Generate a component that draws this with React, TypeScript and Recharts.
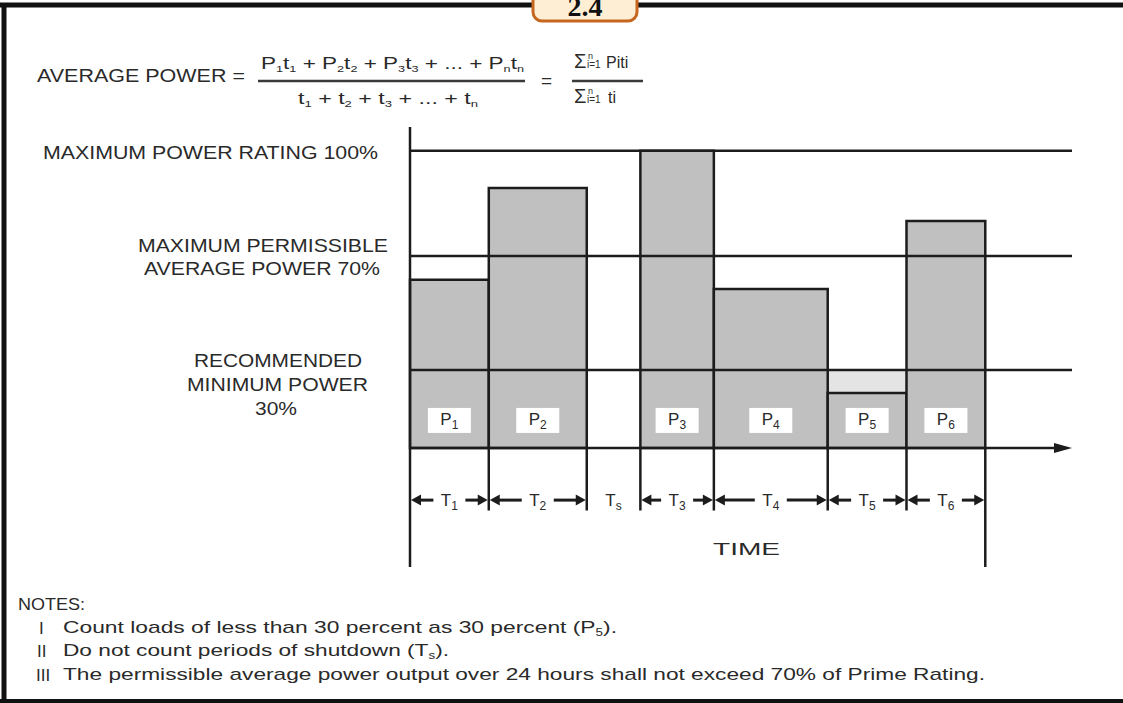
import React from 'react';
import { ComposedChart, XAxis, YAxis, ReferenceArea, ReferenceLine, Scatter } from 'recharts';

// ---- data (diagram units: time on x, load as drawn fraction of the 100% level on y) ----
const periodNames = ['1', '2', '3', '4', '5', '6'];
const periodStart = [0, 11.9, 34.8, 45.9, 63.1, 75.0];
const periodEnd = [11.9, 26.7, 45.9, 63.1, 75.0, 86.9];
const loadLevel = [56.6, 87.5, 100, 53.5, 18.5, 76.4];

const levelNames = ['MAXIMUM POWER RATING 100%', 'MAXIMUM PERMISSIBLE AVERAGE POWER 70%', 'RECOMMENDED MINIMUM POWER 30%'];
const levelValues = [100, 64.6, 26.3];

const timeNames = ['1', '2', 's', '3', '4', '5', '6'];
const timeStart = [0, 11.9, 26.7, 34.8, 45.9, 63.1, 75.0];
const timeEnd = [11.9, 26.7, 34.8, 45.9, 63.1, 75.0, 86.9];

const minimumCounted = levelValues[2];

const FONT = "'Liberation Sans', Arial, Helvetica, sans-serif";
const INK = '#2a2a2a';
const LINE = '#1c1c1c';

const labelPoints = periodNames.map((n, i) => ({ x: (periodStart[i] + periodEnd[i]) / 2, y: 9.3, name: n }));

type Part = [string, boolean];

function Rich({ x, y, parts, size, subSize, shift = 4, textLength, anchor = 'start', weight }: any) {
  let cur = 0;
  return (
    <text
      x={x}
      y={y}
      fontFamily={FONT}
      fontSize={size}
      fill={INK}
      textAnchor={anchor}
      fontWeight={weight}
      textLength={textLength}
      lengthAdjust={textLength ? 'spacingAndGlyphs' : undefined}
      style={{ whiteSpace: 'pre' }}
    >
      {(parts as Part[]).map(([t, sub], i) => {
        const target = sub ? shift : 0;
        const dy = target - cur;
        cur = target;
        return (
          <tspan key={i} dy={dy} fontSize={sub ? subSize : size}>
            {t}
          </tspan>
        );
      })}
    </text>
  );
}

function Plain({ x, y, children, size = 19, textLength, anchor = 'start' }: any) {
  return (
    <text
      x={x}
      y={y}
      fontFamily={FONT}
      fontSize={size}
      fill={INK}
      textAnchor={anchor}
      textLength={textLength}
      lengthAdjust={textLength ? 'spacingAndGlyphs' : undefined}
    >
      {children}
    </text>
  );
}

const renderSpan = (p: any, name: string) => {
  const y = p.y1;
  const mid = (p.x1 + p.x2) / 2;
  const g = 16;
  const arrows = name !== 's';
  return (
    <g>
      {arrows && (
        <g>
          <line x1={p.x1 + 8} y1={y} x2={mid - g} y2={y} stroke={LINE} strokeWidth={3} />
          <line x1={mid + g} y1={y} x2={p.x2 - 8} y2={y} stroke={LINE} strokeWidth={3} />
          <polygon points={`${p.x1 + 1},${y} ${p.x1 + 11},${y - 5.5} ${p.x1 + 11},${y + 5.5}`} fill={LINE} />
          <polygon points={`${p.x2 - 1},${y} ${p.x2 - 11},${y - 5.5} ${p.x2 - 11},${y + 5.5}`} fill={LINE} />
        </g>
      )}
      <text x={mid} y={y + 6} textAnchor="middle" fontFamily={FONT} fontSize={17} fill={INK}>
        T<tspan dy={4} fontSize={12}>{name}</tspan>
      </text>
    </g>
  );
};

const renderAxisArrow = (p: any) => (
  <g>
    <line x1={p.x1} y1={p.y1} x2={p.x2 - 12} y2={p.y2} stroke={LINE} strokeWidth={2.5} />
    <polygon points={`${p.x2},${p.y1} ${p.x2 - 18},${p.y1 - 5} ${p.x2 - 18},${p.y1 + 5}`} fill={LINE} />
  </g>
);

const renderPLabel = (p: any) => {
  const { cx, cy, payload } = p;
  return (
    <g>
      <rect x={cx - 21.5} y={cy - 12.5} width={43} height={25} fill="#ffffff" />
      <text x={cx} y={cy + 5} textAnchor="middle" fontFamily={FONT} fontSize={17} fill={INK}>
        P<tspan dy={4} fontSize={12}>{payload.name}</tspan>
      </text>
    </g>
  );
};

export default function App() {
  const boundaries = timeEnd.slice(0, -1);
  const lastBoundary = timeEnd[timeEnd.length - 1];
  return (
    <div style={{ position: 'fixed', left: 0, top: 0, width: 1123, height: 703, background: '#ffffff', overflow: 'hidden' }}>
      <ComposedChart
        width={1123}
        height={703}
        margin={{ top: 127, right: 51, bottom: 136, left: 410 }}
        data={labelPoints}
      >
        <XAxis type="number" dataKey="x" domain={[0, 100]} hide allowDataOverflow />
        <YAxis type="number" dataKey="y" domain={[-40, 108]} hide allowDataOverflow />

        {periodNames.map((n, i) =>
          loadLevel[i] < minimumCounted ? (
            <ReferenceArea
              key={'min' + n}
              x1={periodStart[i]}
              x2={periodEnd[i]}
              y1={loadLevel[i]}
              y2={minimumCounted}
              fill="#e4e4e4"
              fillOpacity={1}
              stroke="none"
            />
          ) : null
        )}
        {periodNames.map((n, i) => (
          <ReferenceArea
            key={'bar' + n}
            x1={periodStart[i]}
            x2={periodEnd[i]}
            y1={0}
            y2={loadLevel[i]}
            fill="#c0c0c0"
            fillOpacity={1}
            stroke={LINE}
            strokeWidth={2.5}
          />
        ))}

        {levelValues.map((v, i) => (
          <ReferenceLine key={levelNames[i]} y={v} stroke={LINE} strokeWidth={2.5} />
        ))}
        <ReferenceLine x={0} stroke={LINE} strokeWidth={2.5} />
        <ReferenceLine y={0} shape={renderAxisArrow} />

        {boundaries.map((b) => (
          <ReferenceLine key={'b' + b} segment={[{ x: b, y: 0 }, { x: b, y: -21 }]} stroke={LINE} strokeWidth={2.5} />
        ))}
        <ReferenceLine segment={[{ x: lastBoundary, y: 0 }, { x: lastBoundary, y: -40 }]} stroke={LINE} strokeWidth={2.5} />

        {timeNames.map((n, i) => (
          <ReferenceLine
            key={'t' + n}
            segment={[{ x: timeStart[i], y: -17.5 }, { x: timeEnd[i], y: -17.5 }]}
            shape={(p: any) => renderSpan(p, n)}
          />
        ))}

        <Scatter dataKey="y" isAnimationActive={false} shape={renderPLabel} />
      </ComposedChart>

      <svg width={1123} height={703} style={{ position: 'absolute', left: 0, top: 0, pointerEvents: 'none' }}>
        {/* frame */}
        <line x1={0} y1={5} x2={1123} y2={5} stroke="#111" strokeWidth={5} />
        <line x1={4} y1={3} x2={4} y2={703} stroke="#111" strokeWidth={5} />
        <line x1={0} y1={701} x2={1123} y2={701} stroke="#111" strokeWidth={4} />
        <rect x={533} y={-14} width={104} height={35} rx={9} fill="#fdeed4" stroke="#c6661f" strokeWidth={3} />
        <text x={585} y={16} textAnchor="middle" fontFamily="'Liberation Serif', serif" fontWeight="bold" fontSize={28} fill="#111">
          2.4
        </text>

        {/* formula */}
        <Plain x={37} y={82} size={19} textLength={208}>AVERAGE POWER =</Plain>
        <Rich
          x={261}
          y={69}
          size={16}
          subSize={9}
          shift={3}
          textLength={263}
          parts={[
            ['P', false], ['1', true], ['t', false], ['1', true], [' + P', false], ['2', true], ['t', false], ['2', true],
            [' + P', false], ['3', true], ['t', false], ['3', true], [' + ... + P', false], ['n', true], ['t', false], ['n', true],
          ]}
        />
        <line x1={258} y1={81} x2={525} y2={81} stroke="#3a3a3a" strokeWidth={2.5} />
        <Rich
          x={298}
          y={104}
          size={16}
          subSize={9}
          shift={3}
          textLength={180}
          parts={[
            ['t', false], ['1', true], [' + t', false], ['2', true], [' + t', false], ['3', true], [' + ... + t', false], ['n', true],
          ]}
        />
        <Plain x={541} y={87} size={19}>=</Plain>
        <text x={574} y={68} fontFamily={FONT} fontSize={20} fill={INK}>Σ</text>
        <text x={588} y={59} fontFamily={FONT} fontSize={9} fill={INK}>n</text>
        <text x={587} y={68} fontFamily={FONT} fontSize={10} fill={INK}>i=1</text>
        <text x={606} y={68} fontFamily={FONT} fontSize={16} fill={INK}>Piti</text>
        <line x1={572} y1={81} x2={643} y2={81} stroke="#3a3a3a" strokeWidth={2.5} />
        <text x={574} y={103} fontFamily={FONT} fontSize={20} fill={INK}>Σ</text>
        <text x={588} y={94} fontFamily={FONT} fontSize={9} fill={INK}>n</text>
        <text x={587} y={103} fontFamily={FONT} fontSize={10} fill={INK}>i=1</text>
        <text x={608} y={103} fontFamily={FONT} fontSize={16} fill={INK}>ti</text>

        {/* level labels */}
        <Plain x={43} y={159} textLength={335}>MAXIMUM POWER RATING 100%</Plain>
        <Plain x={138} y={252} textLength={250}>MAXIMUM PERMISSIBLE</Plain>
        <Plain x={144} y={275} textLength={236}>AVERAGE POWER 70%</Plain>
        <Plain x={194} y={367} textLength={168}>RECOMMENDED</Plain>
        <Plain x={187} y={391} textLength={181}>MINIMUM POWER</Plain>
        <Plain x={255} y={415} textLength={42}>30%</Plain>

        <Plain x={713} y={555} size={17} textLength={67}>TIME</Plain>

        {/* notes */}
        <Plain x={18} y={610} size={17} textLength={67}>NOTES:</Plain>
        <Plain x={39} y={634} size={17}>I</Plain>
        <Plain x={37} y={657} size={17}>II</Plain>
        <Plain x={36} y={681} size={17}>III</Plain>
        <Rich
          x={63}
          y={633}
          size={17}
          subSize={10}
          shift={3}
          textLength={554}
          parts={[['Count loads of less than 30 percent as 30 percent (P', false], ['5', true], [').', false]]}
        />
        <Rich
          x={63}
          y={656}
          size={17}
          subSize={10}
          shift={3}
          textLength={386}
          parts={[['Do not count periods of shutdown (T', false], ['s', true], [').', false]]}
        />
        <Plain x={63} y={680} size={17} textLength={922}>
          The permissible average power output over 24 hours shall not exceed 70% of Prime Rating.
        </Plain>
      </svg>
    </div>
  );
}
